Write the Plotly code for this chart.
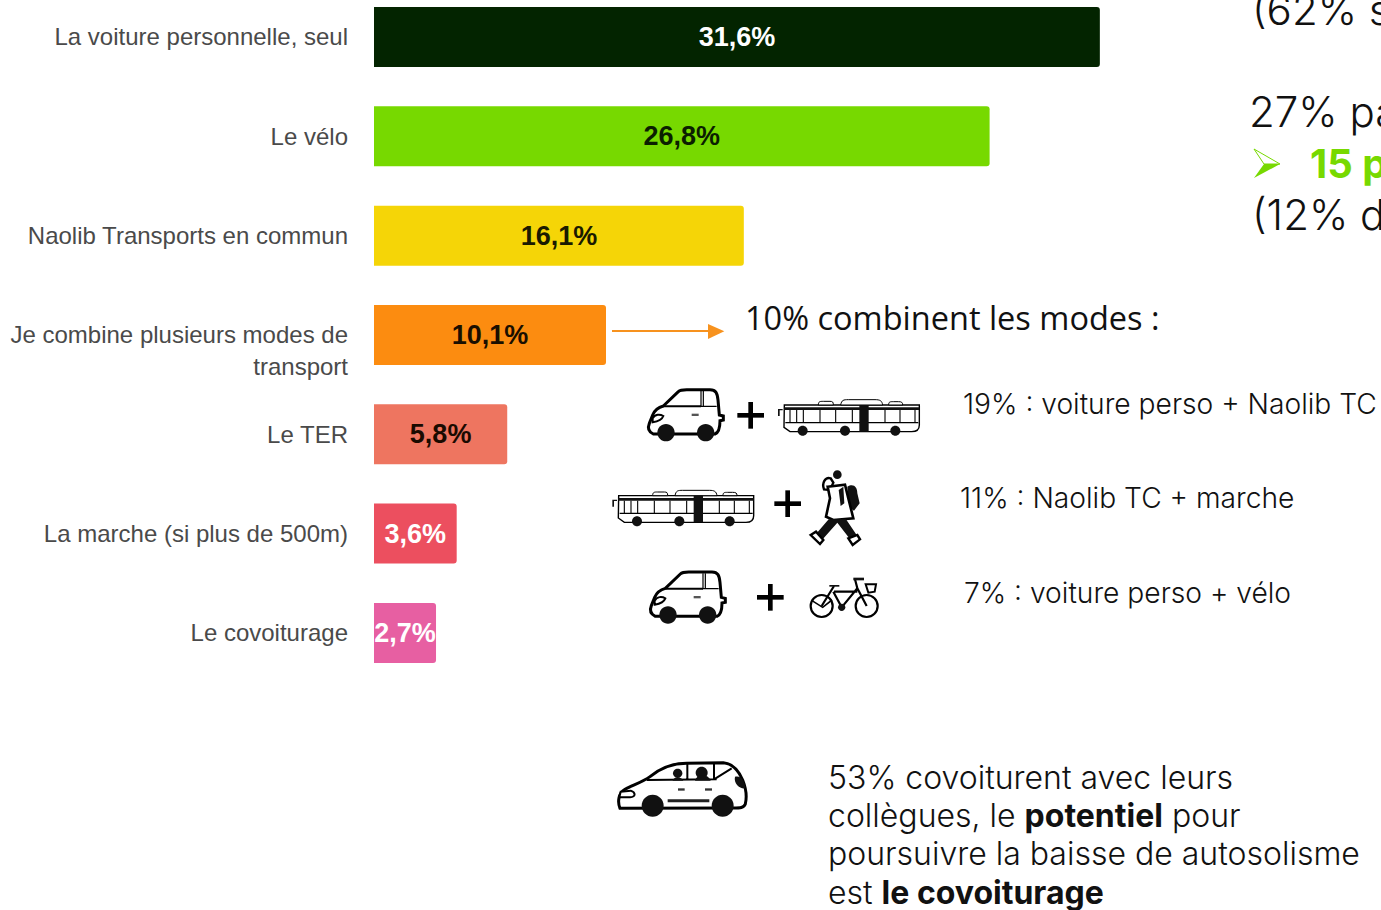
import re
import plotly.graph_objects as go

# ---- data
categories = ["La voiture personnelle, seul", "Le vélo", "Naolib Transports en commun",
              "&nbsp;<br>Je combine plusieurs modes de<br>transport", "Le TER",
              "La marche (si plus de 500m)", "Le covoiturage"]
values = [31.6, 26.8, 16.1, 10.1, 5.8, 3.6, 2.7]
value_labels = ["<b>31,6%</b>", "<b>26,8%</b>", "<b>16,1%</b>", "<b>10,1%</b>", "<b>5,8%</b>", "<b>3,6%</b>", "<b>2,7%</b>"]
bar_colors = ["#032400", "#77d900", "#f5d507", "#fc8c10", "#ee7560", "#ec4f5f", "#e75fa2"]
label_colors = ["#ffffff", "#0b1f00", "#1a1a00", "#1a0f00", "#1a0a00", "#ffffff", "#ffffff"]

W, H, L = 1381, 910, 374
PX_PER_UNIT = 22.97

def px(x):
    return (x - L) / (W - L)
def py(y):
    return 1 - y / H

def conv(path, ox=600, oy=290, dx=0, dy=0, s=1/3):
    toks = re.findall(r"[A-Za-z]|-?\d+\.?\d*", path)
    out, i = [], 0
    while i < len(toks):
        if toks[i].isalpha():
            out.append(toks[i]); i += 1
        else:
            X = ox + (float(toks[i]) + dx) * s
            Y = oy + (float(toks[i + 1]) + dy) * s
            out.append(f"{px(X):.5f},{py(Y):.5f}")
            i += 2
    return " ".join(out)

def circ(cx, cy, r):
    k = 0.5523 * r
    return (f"M {cx-r} {cy} C {cx-r} {cy-k} {cx-k} {cy-r} {cx} {cy-r} "
            f"C {cx+k} {cy-r} {cx+r} {cy-k} {cx+r} {cy} "
            f"C {cx+r} {cy+k} {cx+k} {cy+r} {cx} {cy+r} "
            f"C {cx-k} {cy+r} {cx-r} {cy+k} {cx-r} {cy} Z")

shapes = []
def add(path, fill="#000000", lw=0.0, line="#000000", **kw):
    shapes.append(dict(type="path", xref="paper", yref="paper", layer="above",
                       path=conv(path, **kw), fillcolor=fill,
                       line=dict(color=line, width=lw)))

def car(**kw):
    body = ("M 160 432 C 145 425 142 415 148 400 L 158 375 C 165 358 175 352 190 348 L 235 305 "
            "C 240 300 250 299 260 299 L 330 299 C 348 299 352 310 354 330 L 358 375 L 370 378 "
            "L 370 390 L 360 392 C 360 415 355 428 345 432 Z")
    add(body, "#ffffff", 3, **kw)
    add("M 190 349 L 303 349", "rgba(0,0,0,0)", 2, **kw)
    add("M 303 303 L 303 349 L 350 349 M 310 303 L 310 349", "rgba(0,0,0,0)", 1.2, **kw)
    add(circ(198, 428, 26), "#111111", **kw)
    add(circ(317, 428, 26), "#111111", **kw)
    add("M 158 385 C 165 372 180 372 190 378 C 185 392 170 395 158 397 Z", "#ffffff", 2, **kw)
    add("M 275 371 L 296 371 L 296 378 L 275 378 Z", "#555555", **kw)

def bus(**kw):
    add("M 553 345 L 958 345 L 958 405 C 958 420 950 425 935 425 L 570 425 L 552 412 Z", "#ffffff", 1.4, **kw)
    add("M 655 345 C 655 334 660 334 670 334 L 690 334 C 698 334 700 336 700 345 Z", "#ffffff", 1, **kw)
    add("M 722 345 C 725 330 730 329 745 329 L 825 329 C 840 329 846 332 848 345 Z", "#ffffff", 1, **kw)
    add("M 866 345 C 866 335 870 335 880 335 L 895 335 C 905 335 908 337 908 345 Z", "#ffffff", 1, **kw)
    add("M 552 352 L 958 352 L 958 360 L 552 360 Z", "#111111", **kw)
    add("M 556 398 L 955 398", "rgba(0,0,0,0)", 1.1, **kw)
    for xv in [570, 590, 610, 660, 707, 757, 855, 900, 945]:
        add(f"M {xv} 360 L {xv} 398", "rgba(0,0,0,0)", 1.1, **kw)
    add("M 778 345 L 806 345 L 806 425 L 778 425 Z", "#111111", **kw)
    add("M 548 357 L 534 357 L 534 378 L 539 378 L 539 361 L 548 361 Z", "#111111", **kw)
    for xv in [608, 735, 886]:
        add(circ(xv, 422, 15), "#111111", **kw)

def plus(cx, cy):
    add(f"M {cx-40} {cy-7} L {cx+40} {cy-7} L {cx+40} {cy+7} L {cx-40} {cy+7} Z")
    add(f"M {cx-7} {cy-40} L {cx+7} {cy-40} L {cx+7} {cy+40} L {cx-7} {cy+40} Z")

car()
bus()
car(dx=6, dy=547)
bus(dx=-497, dy=272)
plus(452, 376)
plus(563, 641)
plus(511, 922)

# walker
none = "rgba(0,0,0,0)"
add(circ(712, 554, 13), "#111111")
add("M 672 598 C 665 580 675 560 692 565 L 700 578 L 690 600 Z", "#ffffff", 2.4)
add("M 742 590 C 760 580 772 590 772 610 L 779 640 L 762 662 L 745 650 Z", "#111111")
add("M 683 590 L 735 584 L 745 625 L 760 685 L 700 690 L 678 680 L 690 625 Z", "#ffffff", 2.6)
add("M 716 600 L 730 590 L 733 640 L 722 648 Z", "#111111")
add("M 686 688 L 648 732 L 668 748 L 712 698 L 748 745 L 770 735 L 738 688 Z", "#111111")
add("M 632 735 L 648 725 L 670 750 L 660 762 Z", "#ffffff", 2.4)
add("M 745 745 L 772 735 L 780 748 L 758 765 Z", "#ffffff", 2.4)

# bike
add(circ(665, 948, 33), none, 2.2)
add(circ(800, 948, 33), none, 2.2)
add("M 636 932 L 668 952 L 696 930", none, 1.6)
add("M 665 948 L 702 888 M 700 905 L 725 952 L 772 895 L 800 948 M 702 905 L 772 905 M 772 895 L 765 868", none, 2.2)
add("M 688 885 L 718 885 L 718 890 L 688 890 Z", "#111111")
add("M 760 863 L 792 863 L 792 871 L 760 871 Z", "#111111")
add("M 797 883 L 828 883 L 824 905 L 805 908 Z", "#ffffff", 2)
add(circ(725, 952, 11), "#111111")

# minivan (own origin)
mv = dict(ox=600, oy=740)
add("M 60 205 C 52 185 55 160 75 148 C 100 135 130 125 150 110 C 180 85 215 70 260 70 L 370 68 "
    "C 395 70 415 90 428 120 C 440 150 440 175 436 192 C 432 204 420 204 400 204 L 60 205 Z", "#ffffff", 3, **mv)
add("M 140 120 L 350 118 M 262 72 L 262 120 M 342 72 L 342 118 M 342 118 L 395 85", none, 2, **mv)
add(circ(233, 100, 14), "#111111", **mv)
add("M 218 122 C 220 108 245 108 250 122 Z", "#111111", **mv)
add(circ(305, 98, 18), "#111111", **mv)
add("M 285 122 C 290 100 325 100 332 122 Z", "#111111", **mv)
add("M 405 110 C 425 105 435 125 436 145 C 420 148 400 130 405 110 Z", "#111111", **mv)
add("M 62 155 L 92 152 C 108 158 108 170 90 172 L 58 172 Z", "#ffffff", 2, **mv)
add("M 234 145 L 254 145 L 254 152 L 234 152 Z", "#333333", **mv)
add("M 315 145 L 336 145 L 336 152 L 315 152 Z", "#333333", **mv)
add("M 203 178 L 328 178 L 328 187 L 203 187 Z", "#222222", **mv)
add(circ(158, 197, 33), "#111111", **mv)
add(circ(368, 197, 33), "#111111", **mv)

# orange arrow
ORANGE = "#f7921e"
shapes.append(dict(type="line", xref="paper", yref="paper", x0=px(612), x1=px(712), y0=py(331), y1=py(331),
                   line=dict(color=ORANGE, width=2)))
add("M 324 102 L 373 124 L 324 147 Z", ORANGE)
# green arrow marker
GREEN = "#77d900"
add("M 0 0 L 26 15 L 10 15 Z", "#ffffff", 1, GREEN, ox=1254, oy=149, s=1)
add("M 0 29 L 26 15 L 10 15 Z", GREEN, ox=1254, oy=149, s=1)

# ---- text
def note(x, y, text, size, font, color="#111111", weight=None):
    f = dict(family=font, size=size, color=color)
    if weight:
        f["weight"] = weight
    return dict(xref="paper", yref="paper", x=px(x), y=py(y), text=text, showarrow=False,
                xanchor="left", yanchor="middle", borderpad=0, align="left", font=f)

A = "Inter, sans-serif"
O = "Open Sans, sans-serif"
annotations = [
    note(1251, 10, "(62% s", 42, A, weight=300),
    note(1248, 111, "27% pa", 42, A, weight=300),
    note(1309, 163, "<b>15 p</b>", 40, A, GREEN),
    note(1251, 214, "(12% d", 42, A, weight=300),
    note(744, 317, "10% combinent les modes :", 32.5, O),
    note(962, 404, "19% : voiture perso + Naolib TC", 28.2, A, weight=300),
    note(959, 498, "11% : Naolib TC + marche", 28.2, A, weight=300),
    note(963, 593, "7% : voiture perso + vélo", 28.2, A, weight=300),
    note(827, 777, "53% covoiturent avec leurs", 32, A, weight=300),
    note(827, 815, "collègues, le <b>potentiel</b> pour", 32, A, weight=300),
    note(827, 853, "poursuivre la baisse de autosolisme", 32, A, weight=300),
    note(827, 892, "est <b>le covoiturage</b>", 32, A, weight=300),
]

fig = go.Figure(go.Bar(
    x=values, y=categories, orientation="h", width=0.604,
    marker=dict(color=bar_colors, line=dict(width=0), cornerradius=3),
    text=value_labels, textposition="inside", insidetextanchor="middle",
    textangle=0, constraintext="none",
    textfont=dict(family="Liberation Sans, Arial, sans-serif", size=27, color=label_colors),
    hoverinfo="skip",
))
fig.update_layout(
    width=W, height=H, showlegend=False, paper_bgcolor="#ffffff", plot_bgcolor="#ffffff",
    margin=dict(l=L, r=0, t=0, b=0),
    xaxis=dict(range=[0, (W - L) / PX_PER_UNIT], visible=False, fixedrange=True),
    yaxis=dict(type="category", categoryorder="array", categoryarray=categories,
               range=[8.79, -0.3725], showgrid=False, zeroline=False, showline=False,
               ticks="", ticklabelstandoff=25, automargin=False, fixedrange=True,
               tickfont=dict(family="Liberation Sans, Arial, sans-serif", size=24, color="#4a4a4a")),
    shapes=shapes, annotations=annotations, dragmode=False,
)
fig.write_html("out.html", config=dict(displayModeBar=False),
               post_script="document.body.style.margin='0';document.documentElement.style.overflow='hidden';")
